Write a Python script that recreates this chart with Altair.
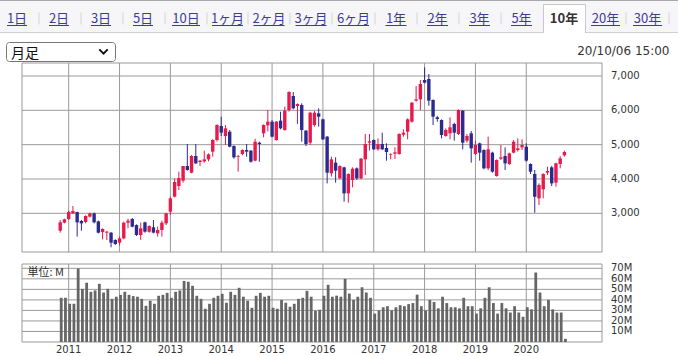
import altair as alt
import pandas as pd

# ---------------- data (monthly candles, Nov 2010 .. Oct 2020) ----------------
months = pd.period_range("2010-11", "2020-10", freq="M").strftime("%Y-%m").tolist()

opens = [2494, 2727,
         2834, 2999, 3038, 2776, 2747, 2902, 2999, 2766, 2456, 2436, 2436, 2223,
         2145, 2271, 2727, 2834, 2659, 2368, 2737, 2465, 2592, 2417, 2514, 2708,
         3048, 3485, 3796, 3951, 4378, 4184, 4670, 4495, 4514, 4572, 4796, 5136,
         5543, 5252, 5378, 4961, 4650, 4728, 4844, 4825, 4534, 5058, 5330, 5563,
         5670, 5136, 5699, 5427, 6010, 6417, 6126, 6155, 5407, 5058, 5573, 5912,
         5738, 5233, 4165, 4475, 4019, 4339, 3582, 3970, 4310, 4019, 4572, 5058,
         5136, 4864, 5019, 4903, 4709, 4737, 4728, 5291, 5378, 5670, 6281, 6320,
         6883, 6913, 6301, 5796, 5718, 5252, 5330, 5602, 5310, 5990, 5116, 5330,
         4728, 5039, 4844, 4310, 4767, 4087, 4592, 4670, 4437, 4767, 4844, 4922,
         4941, 4437, 4145, 3436, 3699, 4184, 4339, 3893, 4437, 4689]
highs = [2805, 2844,
         3077, 3213, 3048, 2805, 2941, 3019, 3019, 2786, 2562, 2485, 2456, 2242,
         2320, 2757, 2844, 2863, 2679, 2727, 2757, 2650, 2805, 2611, 2786, 3019,
         3485, 4019, 4213, 4378, 5019, 4699, 5019, 4553, 4825, 4747, 5155, 5592,
         5815, 5573, 5427, 4980, 4699, 4864, 5019, 4844, 5174, 5087, 5592, 6010,
         5718, 5689, 5961, 6107, 6553, 6534, 6204, 6204, 5427, 5961, 5990, 6058,
         5757, 5252, 4650, 4631, 4398, 4359, 4165, 4339, 4339, 4611, 5310, 5310,
         5155, 5184, 5349, 5039, 4747, 4922, 5330, 5446, 5767, 6243, 6709, 6883,
         7252, 7058, 6320, 5835, 5738, 5475, 5796, 5641, 6029, 6010, 5310, 5398,
         5116, 5058, 4864, 5233, 4796, 4572, 4990, 4922, 4767, 5136, 5184, 5155,
         5039, 4456, 4262, 3873, 4165, 4359, 4378, 4475, 4670, 4825]
lows = [2436, 2708,
        2805, 2980, 2320, 2494, 2708, 2883, 2708, 2417, 2242, 2223, 2009, 2077,
        2067, 2242, 2562, 2592, 2339, 2223, 2436, 2436, 2417, 2320, 2320, 2659,
        2951, 3465, 3679, 3893, 4242, 4165, 4437, 4378, 4475, 4514, 4650, 5087,
        5252, 4990, 4922, 4592, 4213, 4689, 4650, 4475, 4514, 4504, 5213, 5388,
        5213, 5116, 5446, 5407, 5961, 6029, 5602, 5087, 4961, 4990, 5524, 5524,
        5136, 3873, 4068, 3893, 3990, 3339, 3310, 3757, 3970, 3990, 4116, 4825,
        4844, 4825, 4844, 4534, 4572, 4582, 4708, 5233, 5155, 5641, 6252, 6010,
        6786, 6136, 5573, 5670, 5184, 5233, 5155, 5116, 5281, 4864, 5058, 4475,
        4699, 4534, 4281, 4262, 4184, 4068, 4553, 4262, 4407, 4747, 4796, 4844,
        4504, 4145, 3019, 3242, 3436, 4116, 3796, 3776, 4310, 4650]
closes = [2737, 2825,
          3038, 3067, 2737, 2708, 2922, 2999, 2737, 2436, 2543, 2465, 2145, 2106,
          2271, 2727, 2786, 2611, 2368, 2562, 2465, 2630, 2436, 2514, 2727, 2999,
          3436, 3912, 4029, 4378, 4262, 4670, 4456, 4534, 4572, 4718, 5136, 5573,
          5349, 5475, 4941, 4631, 4670, 4844, 4796, 4504, 5087, 5019, 5573, 5670,
          5233, 5670, 5475, 5990, 6534, 6058, 6184, 5427, 5019, 5932, 5932, 5815,
          5155, 4184, 4572, 4242, 4378, 3582, 4145, 4300, 4019, 4592, 5019, 5097,
          4864, 5019, 4864, 4786, 4728, 4776, 5310, 5349, 5738, 6223, 6320, 6767,
          6806, 6281, 5815, 5747, 5281, 5427, 5505, 5349, 6010, 5058, 5252, 4893,
          4990, 4767, 4310, 4864, 4213, 4553, 4631, 4456, 4747, 5087, 4893, 4990,
          4534, 4213, 3485, 3825, 4145, 4233, 3873, 4456, 4602, 4786]
volumes = [42, 42,
           36.3, 36.3, 69.8, 50.5, 56.2, 47.7, 49, 55.3, 47, 50.5, 41, 43,
           44.8, 47.7, 44.8, 43.6, 43, 41, 34.4, 39.2, 36.3, 43.9, 44.8, 46.7,
           42, 47.7, 49, 58, 57.2, 53.4, 43.9, 41, 31.6, 36.3, 42, 43.9,
           45.8, 37.3, 47.7, 44.8, 51.5, 43, 39.2, 32.5, 43.9, 46.7, 43, 43.9,
           32.5, 31.6, 40, 37.3, 33.5, 36.3, 41, 42, 48.6, 43, 29.7, 30.6,
           43.9, 54.3, 43, 44, 43, 60, 46, 40, 43, 52, 47, 42,
           27, 30, 33, 34, 30, 33, 35, 34, 36, 37, 45, 34,
           30, 40, 38, 32, 43, 37, 33, 33, 32, 42, 34, 34,
           27, 32, 42, 52, 37, 27, 37, 32, 28, 34, 28, 24,
           33, 31, 66, 47, 34, 40, 31, 28, 28, 3]
years = list(range(2011, 2021))
price_ticks = [3000, 4000, 5000, 6000, 7000]
volume_ticks = [10, 20, 30, 40, 50, 60, 70]
tab_labels = ["1日", "2日", "3日", "5日", "10日", "1ヶ月", "2ヶ月", "3ヶ月", "6ヶ月",
              "1年", "2年", "3年", "5年", "10年", "20年", "30年"]
selected_tab = "10年"
timestamp = "20/10/06 15:00"
period_choice = "月足"
unit_label = "単位: M"

# ---------------- tables ----------------
df = pd.DataFrame({"month": months, "open": opens, "high": highs,
                   "low": lows, "close": closes, "vol": volumes})
df["m"] = df["month"].map(lambda s: (int(s[:4]) - 2011) * 12 + int(s[5:7]) - 1)
df["dir"] = ["up" if c >= o else "down" for o, c in zip(opens, closes)]
yr_df = pd.DataFrame({"year": [str(y) for y in years], "m": [(y - 2011) * 12 for y in years]})
pt_df = pd.DataFrame({"v": price_ticks, "lab": [f"{v:,}" for v in price_ticks]})
vt_df = pd.DataFrame({"v": volume_ticks, "lab": [f"{v}M" for v in volume_ticks]})
one = pd.DataFrame({"k": [0]})

# ---------------- layout / style ----------------
OX, OY = 22, 63
W, H = 580, 279
RED, BLUE, GRID, VOLC = "#e8194b", "#2b2b8f", "#9a9a9a", "#666666"
LINK = "#3c3c96"
FONT = "DejaVu Sans"
JFONT = "Noto Sans CJK JP"
XMIN, XMAX = -11.02, 125.87
PMIN, PMAX = 1873, 7379
VMAX = 74.1


def vx(a):
    return a - OX


def vy(a):
    return a - OY


xs = alt.Scale(domain=[XMIN, XMAX], nice=False, zero=False, padding=0)
ps = alt.Scale(domain=[PMIN, PMAX], range=[189, 0], nice=False, zero=False)
vs = alt.Scale(domain=[0, VMAX], range=[279, 201], nice=False, zero=False)
cs = alt.Scale(domain=["up", "down"], range=[RED, BLUE])

# ---------------- price panel ----------------
p_grid = alt.Chart(pt_df).mark_rule(color=GRID, strokeWidth=1).encode(
    x=alt.XDatum(XMIN, scale=xs, axis=None), x2=alt.X2Datum(XMAX),
    y=alt.Y("v:Q", scale=ps, axis=None))
p_years = alt.Chart(yr_df).mark_rule(color=GRID, strokeWidth=1).encode(
    x=alt.X("m:Q", axis=None),
    y=alt.YDatum(PMIN, axis=None), y2=alt.Y2Datum(PMAX))
p_frame = alt.Chart(one).mark_rect(fillOpacity=0, stroke=GRID, strokeWidth=1).encode(
    x=alt.XDatum(XMIN, axis=None), x2=alt.X2Datum(XMAX),
    y=alt.YDatum(PMIN, axis=None), y2=alt.Y2Datum(PMAX))
p_labels = alt.Chart(pt_df).mark_text(align="left", baseline="middle", dx=9,
                                      font=FONT, fontSize=10, color="#333").encode(
    x=alt.XDatum(XMAX, axis=None), y=alt.Y("v:Q", axis=None), text="lab:N")
wicks = alt.Chart(df).mark_rule(strokeWidth=1).encode(
    x=alt.X("m:Q", axis=None),
    y=alt.Y("low:Q", axis=None), y2="high:Q",
    color=alt.Color("dir:N", scale=cs, legend=None))
bodies = alt.Chart(df).mark_bar(width=3.4, orient="vertical").encode(
    x=alt.X("m:Q", axis=None),
    y=alt.Y("open:Q", axis=None), y2="close:Q",
    color=alt.Color("dir:N", scale=cs, legend=None))
price_layer = alt.layer(p_grid, p_years, p_frame, p_labels, wicks, bodies)

# ---------------- volume panel ----------------
v_grid = alt.Chart(vt_df).mark_rule(color=GRID, strokeWidth=1).encode(
    x=alt.XDatum(XMIN, axis=None), x2=alt.X2Datum(XMAX),
    y=alt.Y("v:Q", scale=vs, axis=None))
v_years = alt.Chart(yr_df).mark_rule(color=GRID, strokeWidth=1).encode(
    x=alt.X("m:Q", axis=None),
    y=alt.YDatum(0, axis=None), y2=alt.Y2Datum(VMAX))
v_frame = alt.Chart(one).mark_rect(fillOpacity=0, stroke=GRID, strokeWidth=1).encode(
    x=alt.XDatum(XMIN, axis=None), x2=alt.X2Datum(XMAX),
    y=alt.YDatum(0, axis=None), y2=alt.Y2Datum(VMAX))
v_labels = alt.Chart(vt_df).mark_text(align="left", baseline="middle", dx=9,
                                      font=FONT, fontSize=10, color="#333").encode(
    x=alt.XDatum(XMAX, axis=None), y=alt.Y("v:Q", axis=None), text="lab:N")
yr_labels = alt.Chart(yr_df).mark_text(align="center", baseline="top", dy=3,
                                       font=FONT, fontSize=10, color="#333").encode(
    x=alt.X("m:Q", axis=None), y=alt.YDatum(0, axis=None), text="year:N")
v_bars = alt.Chart(df).mark_bar(width=2.8, color=VOLC, xOffset=1, orient="vertical").encode(
    x=alt.X("m:Q", axis=None),
    y=alt.Y("vol:Q", axis=None))
vol_layer = alt.layer(v_grid, v_years, v_frame, v_labels, yr_labels, v_bars)

# ---------------- header (page chrome) ----------------
tab_cx = [17, 59, 101, 143, 186, 227.5, 269, 311, 353.5, 396, 437.5, 479.5, 521.5, 564, 605.5, 647.5]
tab_w = [20, 20, 20, 20, 28, 31, 31, 31, 31, 21, 21, 21, 21, 28, 29, 29]


def ux(a):
    # page pixel -> value on the shared month scale (for page chrome placement)
    return XMIN + (a - OX) / W * (XMAX - XMIN)


tabs = pd.DataFrame({"label": tab_labels,
                     "u": [ux(c) for c in tab_cx],
                     "u0": [ux(c - w / 2) for c, w in zip(tab_cx, tab_w)],
                     "u1": [ux(c + w / 2) for c, w in zip(tab_cx, tab_w)]})
tabs_link = tabs[tabs["label"] != selected_tab]
tabs_sel = tabs[tabs["label"] == selected_tab]
seps = pd.DataFrame({"u": [ux(a) for a in [39, 81, 123, 165, 207, 248, 290, 332, 375,
                                            417, 459, 501, 626, 669]]})


def box(x0, x1, y0, y1, **kw):
    return alt.Chart(one).mark_rect(**kw).encode(
        x=alt.value(vx(x0)), x2=alt.value(vx(x1)), y=alt.value(vy(y0)), y2=alt.value(vy(y1)))


def hline(x0, x1, y, color):
    return alt.Chart(one).mark_rule(color=color, strokeWidth=1).encode(
        x=alt.value(vx(x0)), x2=alt.value(vx(x1)), y=alt.value(vy(y)))


hdr = [
    box(0, 678, 0, 32.5, fill="#f6f6f8"),
    hline(0, 678, 0.5, "#a8a8a8"),
    hline(0, 678, 32.5, "#d0d0d0"),
    box(543.5, 585.5, 4.5, 40, fill="white", stroke="#c8c8c8", strokeWidth=1),
    box(542, 587, 33, 41, fill="white"),
    alt.Chart(seps).mark_rule(color="#d4d4d4", strokeWidth=1).encode(
        x=alt.X("u:Q", axis=None), y=alt.value(vy(12.5)), y2=alt.value(vy(24.5))),
    alt.Chart(tabs_link).mark_text(align="center", baseline="alphabetic", font=JFONT,
                                   fontSize=13, color=LINK).encode(
        x=alt.X("u:Q", axis=None), y=alt.value(vy(23)), text="label:N"),
    alt.Chart(tabs_link).mark_rule(color=LINK, strokeWidth=1).encode(
        x=alt.X("u0:Q", axis=None), x2="u1:Q", y=alt.value(vy(25.5))),
    alt.Chart(tabs_sel).mark_text(align="center", baseline="alphabetic", font=JFONT,
                                  fontSize=13, fontWeight="bold", color="#333").encode(
        x=alt.X("u:Q", axis=None), y=alt.value(vy(23)), text="label:N"),
    box(6.5, 115.5, 42.5, 61.5, fill="white", stroke="#767676", strokeWidth=1, cornerRadius=3),
    alt.Chart(one).mark_text(text=period_choice, align="left", baseline="alphabetic",
                             font=JFONT, fontSize=14, color="#111").encode(
        x=alt.value(vx(11)), y=alt.value(vy(57.5))),
    alt.Chart(one).mark_point(shape="M -1 -0.5 L 0 0.5 L 1 -0.5", filled=False, size=70,
                              strokeWidth=2, color="#111", opacity=1).encode(
        x=alt.value(vx(103.5)), y=alt.value(vy(51.5))),
    alt.Chart(one).mark_text(text=timestamp, align="right", baseline="alphabetic",
                             font=FONT, fontSize=12, color="#333").encode(
        x=alt.value(vx(669.5)), y=alt.value(vy(55))),
    alt.Chart(one).mark_text(text=unit_label, align="left", baseline="alphabetic",
                             font=JFONT, fontSize=11, color="#333").encode(
        x=alt.value(vx(27.5)), y=alt.value(vy(276))),
]
header_layer = alt.layer(*hdr)

chart = alt.layer(price_layer, vol_layer, header_layer).resolve_scale(
    y="independent").properties(
    width=W, height=H,
    padding={"left": OX, "top": OY, "right": 678 - OX - W, "bottom": 356 - OY - H},
    autosize=alt.AutoSizeParams(type="none"),
).configure_view(strokeWidth=0)

chart.save("out.html", embed_options={"renderer": "svg", "actions": False})
